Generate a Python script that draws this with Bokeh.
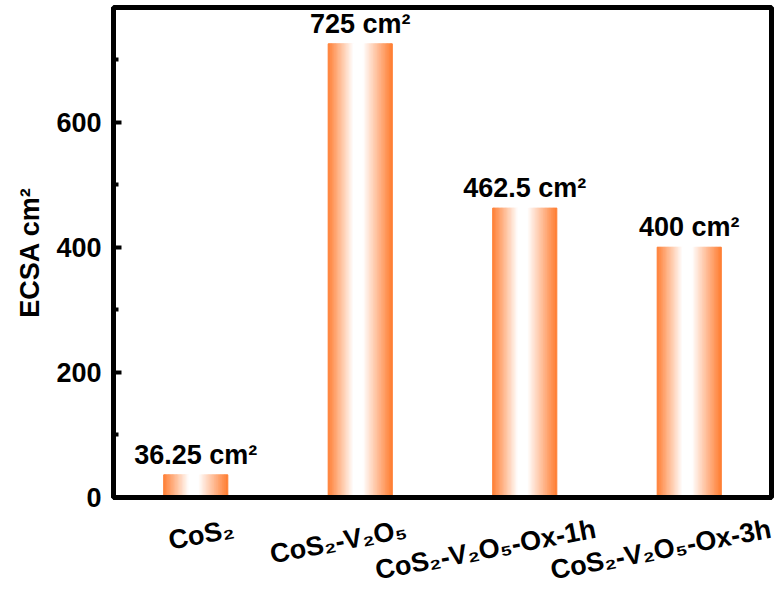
import numpy as np
from bokeh.plotting import figure
from bokeh.models import ColumnDataSource, FixedTicker, Range1d
from bokeh.embed import file_html
from bokeh.resources import INLINE
from bokeh.core.properties import value

# ---- data ----
categories = ["CoS₂", "CoS₂-V₂O₅", "CoS₂-V₂O₅-Ox-1h", "CoS₂-V₂O₅-Ox-3h"]
ecsa = [36.25, 725, 462.5, 400]
value_labels = ["36.25 cm²", "725 cm²", "462.5 cm²", "400 cm²"]
y_ticks = [0, 200, 400, 600]
y_minor_ticks = [100, 300, 500, 700]

# ---- style / placement ----
positions = list(range(1, len(categories) + 1))
bar_width = 0.39
# rotated category labels are right-anchored; horizontal shift of their anchor (in category units)
label_shift = [0.23, 0.28, 0.43, 0.495]
label_ticks = [pos + s for pos, s in zip(positions, label_shift)]
FONT = "Liberation Sans"

p = figure(width=783, height=603, x_range=Range1d(0.5, 4.5), y_range=Range1d(0, 783),
           output_backend="svg", toolbar_location=None,
           min_border_left=113, min_border_right=12, min_border_top=7, min_border_bottom=106)
p.grid.visible = False
p.background_fill_color = "white"
p.border_fill_color = "white"
p.outline_line_color = "black"
p.outline_line_width = 5
p.outline_line_alpha = 1

# ---- gradient bars (vertical strips) ----
N = 48
edge = np.array([255, 125, 50], dtype=float)
lefts, rights, tops, bottoms, colors = [], [], [], [], []
for pos, v in zip(positions, ecsa):
    for k in range(N):
        u0 = k / N
        u1 = (k + 1) / N
        u = (u0 + u1) / 2
        if u < 0.4:
            w = u / 0.4
        elif u < 0.55:
            w = 1.0
        else:
            w = (1 - u) / 0.45
        c = edge + (255 - edge) * w
        colors.append("#%02x%02x%02x" % tuple(int(round(x)) for x in c))
        lefts.append(pos - bar_width / 2 + u0 * bar_width)
        rights.append(pos - bar_width / 2 + u1 * bar_width)
        tops.append(v)
        bottoms.append(0)
bars = ColumnDataSource(dict(left=lefts, right=rights, top=tops, bottom=bottoms, color=colors))
p.quad(left="left", right="right", top="top", bottom="bottom", fill_color="color",
       line_color="color", line_width=1, source=bars)

# ---- value labels ----
vsrc = ColumnDataSource(dict(x=positions, y=ecsa, text=value_labels))
p.text(x="x", y="y", text="text", source=vsrc, text_align="center", text_baseline="alphabetic",
       y_offset=-20, text_font=value(FONT), text_font_style="bold", text_font_size="27px",
       text_color="black")

# ---- axes ----
p.yaxis.ticker = FixedTicker(ticks=y_ticks, minor_ticks=y_minor_ticks)
p.yaxis.major_tick_in = 8
p.yaxis.major_tick_out = 0
p.yaxis.minor_tick_in = 5
p.yaxis.minor_tick_out = 0
p.yaxis.major_tick_line_width = 4
p.yaxis.minor_tick_line_width = 4
p.yaxis.axis_line_width = 5
p.yaxis.major_label_standoff = 12
p.yaxis.major_label_text_font = FONT
p.yaxis.major_label_text_font_style = "bold"
p.yaxis.major_label_text_font_size = "27px"
p.yaxis.major_label_text_color = "black"
p.yaxis.axis_label = "ECSA cm²"
p.yaxis.axis_label_text_font = FONT
p.yaxis.axis_label_text_font_style = "bold"
p.yaxis.axis_label_text_font_size = "27px"
p.yaxis.axis_label_text_color = "black"
p.yaxis.axis_label_standoff = 8

p.xaxis.ticker = FixedTicker(ticks=label_ticks, minor_ticks=[])
p.xaxis.major_label_overrides = {t: name for t, name in zip(label_ticks, categories)}
p.xaxis.major_label_orientation = 0.19
p.xaxis.major_label_standoff = 31
p.xaxis.major_label_text_font = FONT
p.xaxis.major_label_text_font_style = "bold"
p.xaxis.major_label_text_font_size = "27px"
p.xaxis.major_label_text_color = "black"
p.xaxis.major_tick_in = 0
p.xaxis.major_tick_out = 0
p.xaxis.minor_tick_in = 0
p.xaxis.minor_tick_out = 0
p.xaxis.axis_line_width = 5

open("out.html", "w").write(file_html(p, INLINE))
